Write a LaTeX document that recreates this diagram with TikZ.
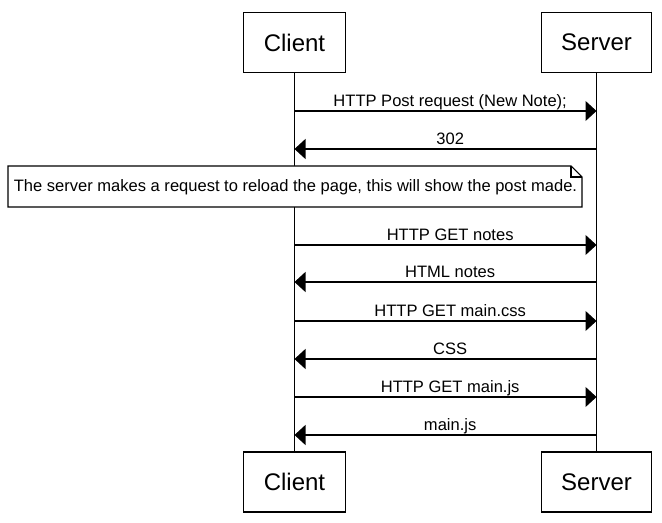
\documentclass[tikz,border=0pt]{standalone}
\usepackage{fontspec}
\setmainfont{Liberation Sans}
\usetikzlibrary{arrows.meta}

\begin{document}
\begin{tikzpicture}[x=0.75pt, y=-0.75pt, line width=0.8pt, % px units, y downwards
  actor/.style={draw, fill=white, font=\fontsize{18}{20}\selectfont, inner xsep=15pt, minimum height=45pt},
  msg/.style={-{Triangle[length=8.25pt, width=15pt]}},
  lbl/.style={above, inner sep=0pt, text depth=0pt, yshift=3pt, xshift=3.5pt, font=\fontsize{12.4}{14}\selectfont}]
  \useasboundingbox (0,0) rectangle (662,523);

  % actors, top and bottom
  \node[actor] (clientTop) at (294.5,42.5) {Client};
  \node[actor] (serverTop) at (596.5,42.5) {Server};
  \node[actor] (clientBot) at (294.5,482) {Client};
  \node[actor] (serverBot) at (596.5,482) {Server};

  % lifelines
  \draw (clientTop) -- (clientBot);
  \draw (serverTop) -- (serverBot);

  % points on the lifelines, one pair per message
  \foreach \i/\y in {1/111, 2/149, 3/245, 4/282, 5/321, 6/359, 7/397, 8/435} {
    \coordinate (c\i) at (clientTop |- 0,\y);
    \coordinate (s\i) at (serverTop |- 0,\y);
  }

  % messages
  \draw[msg] (c1) -- node[lbl] {HTTP Post request (New Note);} (s1);
  \draw[msg] (s2) -- node[lbl] {302} (c2);

  % note with folded corner
  \draw[fill=white] (8,166) -- (571,166) -- (582,177) -- (582,207) -- (8,207) -- cycle;
  \draw (571,166) -- (571,177) -- (582,177);
  \node[inner sep=0pt, font=\fontsize{12.4}{14}\selectfont] (note) at (295.5,187) {The server makes a request to reload the page, this will show the post made.};

  \draw[msg] (c3) -- node[lbl] {HTTP GET notes} (s3);
  \draw[msg] (s4) -- node[lbl] {HTML notes} (c4);
  \draw[msg] (c5) -- node[lbl] {HTTP GET main.css} (s5);
  \draw[msg] (s6) -- node[lbl] {CSS} (c6);
  \draw[msg] (c7) -- node[lbl] {HTTP GET main.js} (s7);
  \draw[msg] (s8) -- node[lbl] {main.js} (c8);

\end{tikzpicture}
\end{document}
